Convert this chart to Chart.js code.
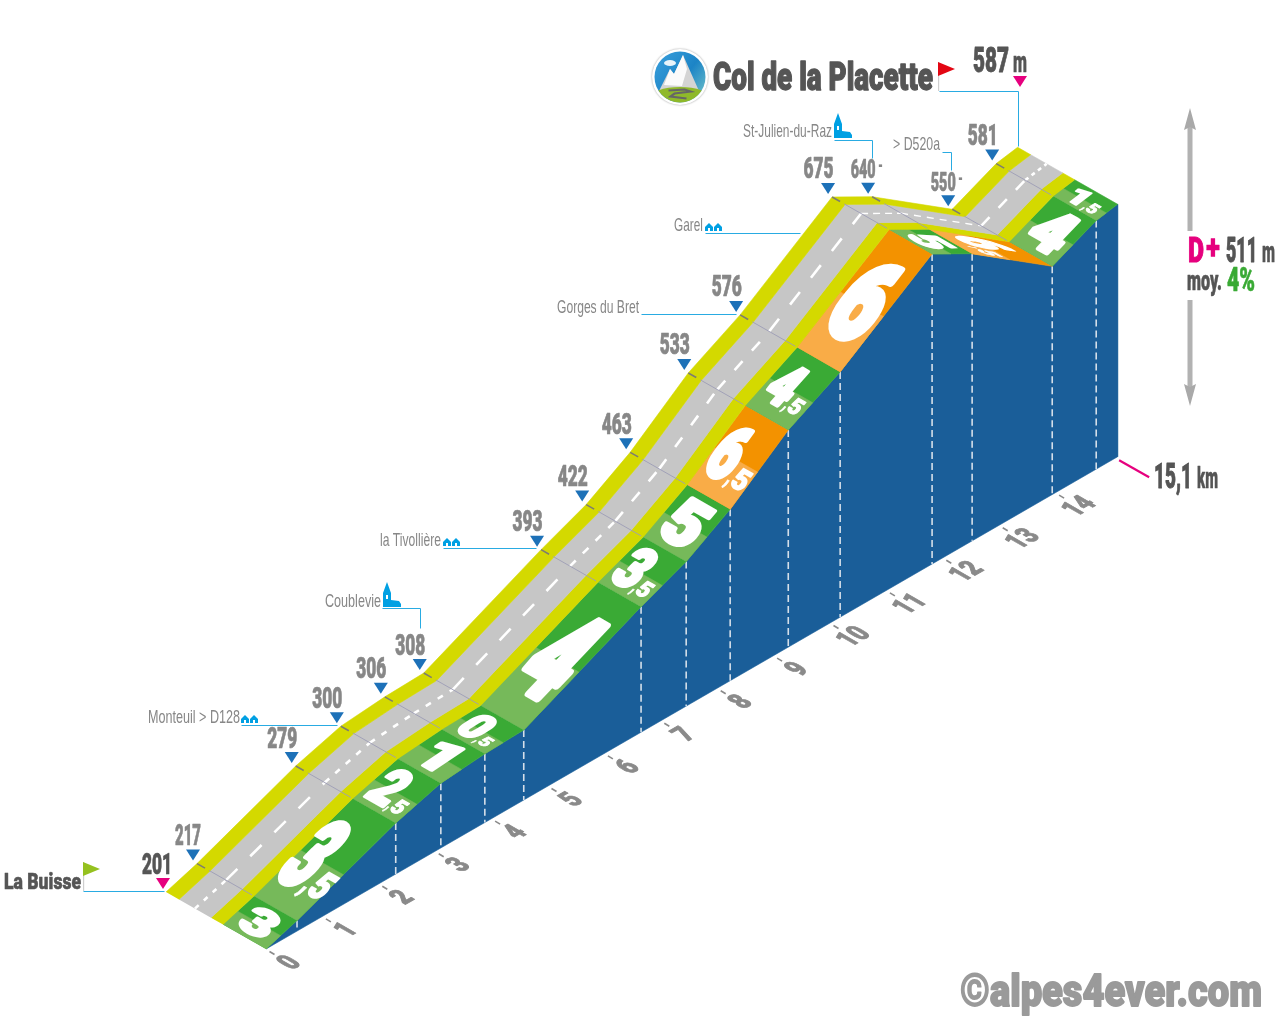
<!DOCTYPE html>
<html><head><meta charset="utf-8">
<style>html,body{margin:0;padding:0;background:#fff}canvas{display:block}</style>
<script src="https://cdn.jsdelivr.net/npm/chart.js@4/dist/chart.umd.js"></script>
</head><body><canvas id="c" width="1280" height="1024"></canvas>
<script>
// ---- data ----
const segmentKm = [0,0.55,2.30,3.10,3.88,4.57,6.65,7.45,8.23,9.26,10.18,11.81,12.52,13.94,14.72,15.1];
const altitudes = [201,217,279,300,306,308,393,422,463,533,576,675,640,550,581,587];
const gradients = ['3','3,5','2,5','1','0,5','4','3,5','5','6,5','4,5','6','5','6,5','4','1,5'];
const kmTicks = [0,1,2,3,4,5,6,7,8,9,10,11,12,13,14];
const title = 'Col de la Placette';
const totalLength = '15,1';
const totalGain = '511';
const meanGradient = '4%';
const startName = 'La Buisse';
const copyright = '©alpes4ever.com';

// ---- oblique view: km axis, metres axis and road-width depth ----
const PX_PER_KM_X = 56.4, PX_PER_KM_Y = 32.6, PX_PER_M = 0.654;
const DEPTH_X = 100, DEPTH_Y = 57, ORIGIN_X = 266, ORIGIN_Y = 949;
function view(km, alt, depth){
  return {x: km - depth*DEPTH_X/PX_PER_KM_X, y: alt + (km*PX_PER_KM_Y + depth*DEPTH_Y)/PX_PER_M};
}
const D_GREEN=0.43, D_Y1=0.55, D_ROAD=0.87, D_MID=0.71;
const BLUE='#1a5e99', YEL='#d4d900', ROAD='#c6c6c6', LIGHT_SHARE=0.47;
const HEAVY='900 100px Roboto', PLAIN='normal 100px "Liberation Sans"';
const isOrange = g => parseFloat(g.replace(',','.')) >= 6 ;
const orangeIdx = i => isOrange(gradients[i]);
const DASH = [[5,7],[16,18],[6,8],[6,8],[6,8],[16,18],[8,10],[12,14],[12,15],[12,14],[16,18],[7,5],[7,6],[12,13],[4,4]];

const ds = [];
function poly(points,color){
  ds.unshift({data:points,showLine:true,pointRadius:0,fill:'shape',backgroundColor:color,borderColor:color,borderWidth:0.6,tension:0});
}
function lineDs(points,color,w,dash){
  ds.unshift({data:points,showLine:true,pointRadius:0,fill:false,borderColor:color,borderWidth:w,borderDash:dash||[],tension:0,borderCapStyle:'butt'});
}
const N = segmentKm.length;
// blue side wall: profile on top, foot line below
poly([...segmentKm.map((k,i)=>view(k,altitudes[i],0)), view(segmentKm[N-1],altitudes[0],0), view(0,altitudes[0],0)], BLUE);
// dashed verticals
for(let i=1;i<N-1;i++) lineDs([view(segmentKm[i],altitudes[i],0),view(segmentKm[i],altitudes[0],0)],'#d5dfe9',1.6,[7,4]);
function strip(d0,d1,color){
  poly([...segmentKm.map((k,i)=>view(k,altitudes[i],d0)), ...segmentKm.map((k,i)=>view(k,altitudes[i],d1)).reverse()], color);
}
// gradient bands
for(let i=0;i<N-1;i++){
  const k0=segmentKm[i],k1=segmentKm[i+1],a0=altitudes[i],a1=altitudes[i+1];
  const km=k0+(k1-k0)*LIGHT_SHARE, am=a0+(a1-a0)*LIGHT_SHARE;
  const o=orangeIdx(i);
  poly([view(k0,a0,0),view(k1,a1,0),view(k1,a1,D_GREEN),view(k0,a0,D_GREEN)], o?'#f39200':'#3aaa35');
  poly([view(k0,a0,0),view(km,am,0),view(km,am,D_GREEN),view(k0,a0,D_GREEN)], o?'#f9ac47':'#76b95a');
}
strip(D_GREEN,D_Y1,YEL);
strip(D_Y1,D_ROAD,ROAD);
strip(D_ROAD,1,YEL);
// road centre line
for(let i=0;i<N-1;i++) lineDs([view(segmentKm[i],altitudes[i],D_MID),view(segmentKm[i+1],altitudes[i+1],D_MID)],'#ffffff',i>=11&&i<=12?1.4:2.6,DASH[i]);
// cross seams
for(let i=1;i<N-1;i++){
  lineDs([view(segmentKm[i],altitudes[i],D_GREEN+0.02),view(segmentKm[i],altitudes[i],0.88)],'#9d9db5',0.9);
  lineDs([view(segmentKm[i],altitudes[i],0.92),view(segmentKm[i],altitudes[i],1)],'#7d7d70',1.6);
}

// ---- text helpers ----
function T(ctx,str,x,base,w,h,color,font,stroke){
  ctx.save();
  ctx.font=font||HEAVY;
  ctx.textBaseline='alphabetic';ctx.textAlign='left';
  const m=ctx.measureText(str).width;
  ctx.translate(x,base);ctx.scale(w/m,h/71);
  ctx.fillStyle=color;ctx.fillText(str,0,0);
  if(stroke){ctx.strokeStyle=color;ctx.lineWidth=stroke;ctx.lineJoin='round';ctx.strokeText(str,0,0);}
  ctx.restore();
}
function tri(ctx,x,y,color){ctx.fillStyle=color;ctx.beginPath();ctx.moveTo(x-7,y-5);ctx.lineTo(x+7,y-5);ctx.lineTo(x,y+6);ctx.closePath();ctx.fill();}
function path(ctx,pts,color,w){ctx.strokeStyle=color;ctx.lineWidth=w||1;ctx.beginPath();pts.forEach((p,i)=>i?ctx.lineTo(p[0]+.5,p[1]+.5):ctx.moveTo(p[0]+.5,p[1]+.5));ctx.stroke();}
function church(ctx,x,y){ctx.fillStyle='#00a0e3';ctx.beginPath();ctx.moveTo(x,y);ctx.lineTo(x,y-14);ctx.lineTo(x+4,y-25);ctx.lineTo(x+8,y-14);ctx.lineTo(x+8,y-7);ctx.lineTo(x+16,y-6);ctx.lineTo(x+18,y-3);ctx.lineTo(x+18,y);ctx.closePath();ctx.fill();ctx.fillStyle='#fff';ctx.fillRect(x+3,y-12,2,4);}
function house(ctx,x,y,s){ctx.fillStyle='#00a0e3';ctx.beginPath();ctx.moveTo(x,y);ctx.lineTo(x,y-4*s);ctx.lineTo(x+4*s,y-8*s);ctx.lineTo(x+8*s,y-4*s);ctx.lineTo(x+8*s,y);ctx.closePath();ctx.fill();}
function houses(ctx,x,y){house(ctx,x,y,1);house(ctx,x+9,y,1);ctx.fillStyle='#fff';ctx.fillRect(x+3,y-3,2,3);ctx.fillRect(x+12,y-3,2,3);}
function flag(ctx,x,top,bottom,color){ctx.fillStyle='#cfcfcf';ctx.fillRect(x,top,1.2,bottom-top);ctx.fillStyle=color;ctx.beginPath();ctx.moveTo(x,top);ctx.lineTo(x+17,top+7);ctx.lineTo(x,top+14);ctx.closePath();ctx.fill();}
function arrow(ctx,x,tip,base,end,dir){
  ctx.fillStyle='#b2b2b2';ctx.fillRect(x-2.5,dir>0?base-3:end,5,dir>0?end-base+3:base-end+3);
  ctx.fillStyle='#a9a9a9';ctx.beginPath();ctx.moveTo(x,tip);ctx.lineTo(x+6,base);ctx.lineTo(x,base+(dir>0?-3:3));ctx.lineTo(x-6,base);ctx.closePath();ctx.fill();
}
function logo(ctx,cx,cy){
  ctx.save();
  ctx.beginPath();ctx.arc(cx,cy,28,0,7);ctx.fillStyle='#fff';ctx.shadowColor='#999';ctx.shadowBlur=2;ctx.fill();ctx.shadowBlur=0;
  ctx.beginPath();ctx.arc(cx,cy,25.5,0,7);ctx.clip();
  const g=ctx.createLinearGradient(cx-25,cy-25,cx+25,cy+15);g.addColorStop(0,'#3a9fdc');g.addColorStop(.6,'#1c84c6');g.addColorStop(1,'#63b9c9');
  ctx.fillStyle=g;ctx.fillRect(cx-30,cy-30,60,60);
  ctx.fillStyle='#e8f4fa';ctx.beginPath();ctx.ellipse(cx-10,cy-14,6,3,0,0,7);ctx.fill();
  ctx.fillStyle='#d4d4d4';ctx.beginPath();ctx.moveTo(cx-21,cy+14);ctx.lineTo(cx-10,cy-8);ctx.lineTo(cx-6,cy-3);ctx.lineTo(cx+3,cy-22);ctx.lineTo(cx+19,cy+14);ctx.closePath();ctx.fill();
  ctx.fillStyle='#fbfbfb';ctx.beginPath();ctx.moveTo(cx-16,cy+8);ctx.lineTo(cx-10,cy-8);ctx.lineTo(cx-6,cy-3);ctx.lineTo(cx+3,cy-22);ctx.lineTo(cx+7,cy-8);ctx.lineTo(cx+2,cy+9);ctx.closePath();ctx.fill();
  ctx.fillStyle='#8fb92a';ctx.beginPath();ctx.ellipse(cx,cy+21,30,11,0,0,7);ctx.fill();
  path(ctx,[[cx-12,cy+13],[cx+4,cy+12],[cx+10,cy+14],[cx-6,cy+16],[cx-10,cy+19],[cx+6,cy+21]],'#666',2.2);
  ctx.restore();
}

const overlay = {
  id:'overlay',
  afterDatasetsDraw(chart){
    const ctx=chart.ctx, xs=chart.scales.x, ys=chart.scales.y;
    const P=(k,a,d)=>{const v=view(k,a,d);return {x:xs.getPixelForValue(v.x),y:ys.getPixelForValue(v.y)};};
    const DEEP='#555555', GREY='#878787', LINE='#29abe2';

    // gradient numbers lying on the green/orange band
    const X=[0.869,0.495];
    gradients.forEach((g,i)=>{
      const p0=P(segmentKm[i],altitudes[i],D_GREEN/2), p1=P(segmentKm[i+1],altitudes[i+1],D_GREEN/2);
      const dx=p1.x-p0.x, dy=p1.y-p0.y, len=Math.hypot(dx,dy), ux=dx/len, uy=dy/len;
      const H=Math.max(19,Math.min(100,len<70?len*0.72:len*0.58));
      const parts=g.split(',');
      const W=parts[1]?Math.min(29,17+H*0.18):Math.min(42,24+H*0.25);
      const subH=Math.max(12,H*0.38), subW=parts[1]?Math.min(17,Math.max(10,subH*0.7)):0, comma=parts[1]?Math.max(3,subH*0.2):0;
      const cx=(p0.x+p1.x)/2, cy=(p0.y+p1.y)/2;
      ctx.save();
      ctx.setTransform(X[0],X[1],-ux,-uy,cx,cy);
      const total=W+subW+comma;
      ctx.fillStyle='#fff';ctx.strokeStyle='#fff';ctx.lineJoin='round';
      ctx.font=HEAVY;ctx.textBaseline='alphabetic';
      const draw=(s,x,wd,h,base,lw)=>{ctx.save();ctx.translate(x,base);ctx.scale(wd/ctx.measureText(s).width,h/71);ctx.fillText(s,0,0);ctx.lineWidth=lw;ctx.strokeText(s,0,0);ctx.restore();};
      draw(parts[0],-total/2,W,H,H/2,7);
      if(parts[1]){
        draw(',',-total/2+W,comma,subH,H/2,2);
        draw(parts[1],-total/2+W+comma+0.5,subW,subH,H/2,5);
      }
      ctx.restore();
    });

    // km ticks at the foot line
    const F=[0.869,0.495], K=[PX_PER_KM_X/65.1,-PX_PER_KM_Y/65.1];
    kmTicks.forEach(k=>{
      const b=P(k,altitudes[0],0);
      path(ctx,[[b.x+3,b.y+2],[b.x+8,b.y+5]],'#8a8a8a',1.6);
      const cx=b.x+25*F[0]+3, cy=b.y+25*F[1]+2;
      ctx.save();
      ctx.setTransform(K[0],K[1],F[0],F[1],cx,cy);
      ctx.fillStyle='#8a8a8a';ctx.strokeStyle='#8a8a8a';ctx.lineWidth=1;ctx.lineJoin='round';
      ctx.font='900 30px Roboto';ctx.textAlign='center';ctx.textBaseline='middle';
      ctx.scale(0.72,1);
      ctx.fillText(String(k),0,0);ctx.strokeText(String(k),0,0);
      ctx.restore();
    });

    // altitude labels above the road edge
    segmentKm.forEach((k,i)=>{
      if(i===N-1) return;
      const e=P(k,altitudes[i],1), pink=(i===0);
      const tx=e.x-4, ty=e.y-9;
      const special=(i===12||i===13);
      const w=special?25:(i===1?26:30), h=special?18:20.5;
      const shift=(i===0||i===1||special)?4:-0.5;
      const lx=tx-9+shift, lb=ty-9.5;
      tri(ctx,i===0?tx+1:tx,ty,pink?'#e6007e':'#1d71b8');
      T(ctx,String(altitudes[i]),lx-w/2,lb,w,h,i===0?DEEP:GREY,HEAVY,2.5);
    });
    tri(ctx,1020,81,'#e6007e');
    T(ctx,String(altitudes[N-1]),973,72,36,25,DEEP,HEAVY,2.5);
    T(ctx,'m',1013,72,14,21,DEEP,HEAVY,1.5);
    T(ctx,'-',878,172,5,14,GREY,HEAVY);
    T(ctx,'-',958,185,5,14,GREY,HEAVY);

    // place names and leaders
    path(ctx,[[83,891],[164,891]],LINE);
    flag(ctx,83,862,891,'#95c11f');
    T(ctx,startName,4,889,77,16,DEEP,HEAVY,2.5);
    path(ctx,[[241,725],[337,725]],LINE);houses(ctx,241,723);
    T(ctx,'Monteuil > D128',148,723,92,13.5,GREY,PLAIN);
    path(ctx,[[382,608],[420,608],[420,628]],LINE);church(ctx,383,607);
    T(ctx,'Coublevie',325,607,56,13.5,GREY,PLAIN);
    path(ctx,[[443,548],[536,548]],LINE);houses(ctx,443,546);
    T(ctx,'la Tivollière',380,546,61,13.5,GREY,PLAIN);
    path(ctx,[[641,314],[736,314]],LINE);
    T(ctx,'Gorges du Bret',557,313,82,13.5,GREY,PLAIN);
    path(ctx,[[705,233],[800,233]],LINE);houses(ctx,705,231);
    T(ctx,'Garel',674,231,29,13.5,GREY,PLAIN);
    path(ctx,[[834,140],[872,140],[872,158]],LINE);church(ctx,834,138);
    T(ctx,'St-Julien-du-Raz',743,137,89,13.5,GREY,PLAIN);
    path(ctx,[[942,152],[951,152],[951,170]],LINE);
    T(ctx,'> D520a',893,150,47,13.5,GREY,PLAIN);

    // title block
    logo(ctx,680,77);
    T(ctx,title,713,90,220,27,DEEP,HEAVY,3.5);
    path(ctx,[[939,91],[1018,91],[1018,146]],LINE);
    flag(ctx,938,62,91,'#e30613');

    // summary on the right
    arrow(ctx,1190,108,130,231,1);
    arrow(ctx,1190,406,384,300,-1);
    T(ctx,'D',1188,262,16,25,'#e6007e',HEAVY,3);
    T(ctx,'+',1206,259,14,25,'#e6007e',HEAVY,1);
    T(ctx,totalGain,1226,262,31,25,DEEP,HEAVY,2.5);
    T(ctx,'m',1262,262,13,21,DEEP,HEAVY,1.5);
    T(ctx,'moy.',1187,290,35,19,DEEP,HEAVY,2);
    T(ctx,meanGradient,1227,291,28,23,'#3aaa35',HEAVY,2);
    const e=P(segmentKm[N-1],altitudes[0],0);
    path(ctx,[[e.x+1,e.y+3],[e.x+31,e.y+20]],'#e6007e',2.2);
    T(ctx,totalLength,1154,488,38,25,DEEP,HEAVY,2.5);
    T(ctx,'km',1197,488,21,21,DEEP,HEAVY,1.5);
    T(ctx,copyright,960,1006,302,32,'#9a9a9a',HEAVY,4);
  }
};

const xMin=-ORIGIN_X/PX_PER_KM_X, xMax=(1280-ORIGIN_X)/PX_PER_KM_X;
const yMin=altitudes[0]-(1024-ORIGIN_Y)/PX_PER_M, yMax=altitudes[0]+ORIGIN_Y/PX_PER_M;
new Chart(document.getElementById('c'),{
  type:'scatter',
  data:{datasets:ds},
  options:{
    responsive:false,animation:false,devicePixelRatio:1,events:[],
    layout:{padding:0},
    plugins:{legend:{display:false},tooltip:{enabled:false},title:{display:false}},
    scales:{
      x:{type:'linear',display:false,min:xMin,max:xMax},
      y:{type:'linear',display:false,min:yMin,max:yMax}
    }
  },
  plugins:[overlay]
});
</script></body></html>
